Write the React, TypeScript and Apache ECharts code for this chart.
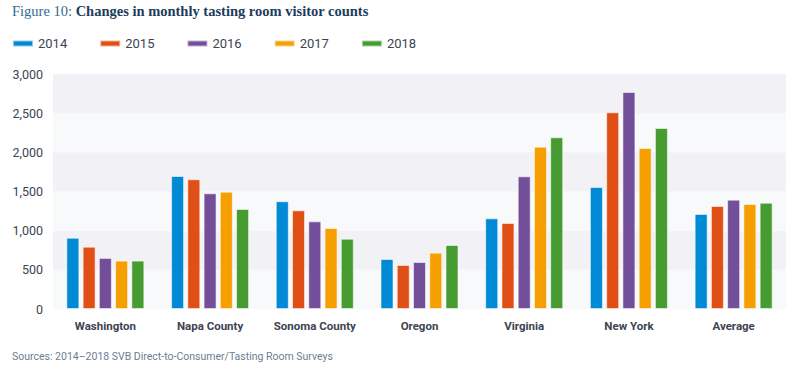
import React, { useEffect, useRef } from "react";
import * as echarts from "echarts";

const categories = ["Washington", "Napa County", "Sonoma County", "Oregon", "Virginia", "New York", "Average"];
const years = ["2014", "2015", "2016", "2017", "2018"];
const v2014 = [910, 1698, 1375, 638, 1157, 1557, 1213];
const v2015 = [795, 1656, 1260, 562, 1098, 2511, 1315];
const v2016 = [652, 1477, 1119, 600, 1694, 2770, 1396];
const v2017 = [618, 1498, 1034, 719, 2072, 2055, 1340];
const v2018 = [618, 1277, 898, 817, 2192, 2311, 1357];
const seriesValues = [v2014, v2015, v2016, v2017, v2018];
const colors = ["#0089d4", "#e04f16", "#744f99", "#f59f00", "#469c31"];
const yTicks = [0, 500, 1000, 1500, 2000, 2500, 3000];

export default function App() {
  const ref = useRef<HTMLDivElement>(null);
  useEffect(() => {
    if (!ref.current) return;
    const chart = echarts.init(ref.current, undefined, { renderer: "svg" });
    const font = "Roboto, 'Noto Sans', sans-serif";
    chart.setOption({
      animation: false,
      backgroundColor: "#ffffff",
      title: {
        left: 12,
        top: 3,
        padding: 0,
        text: "{a|Figure 10: }{b|Changes in monthly tasting room visitor counts}",
        textStyle: {
          rich: {
            a: { fontFamily: "'Liberation Serif', serif", fontSize: 14.5, color: "#2f6b8f", fontWeight: "normal" },
            b: { fontFamily: "'Liberation Serif', serif", fontSize: 14.5, color: "#1d3c5c", fontWeight: "bold" },
          },
        },
      },
      legend: {
        left: 12,
        top: 37,
        padding: 0,
        itemWidth: 20,
        itemHeight: 6,
        itemGap: 32,
        icon: "rect",
        data: years,
        textStyle: { fontFamily: font, fontSize: 13, color: "#3d4452" },
      },
      grid: { left: 53, right: 14, top: 74, bottom: 63 },
      xAxis: {
        type: "category",
        data: categories,
        axisLine: { show: false },
        axisTick: { show: false },
        axisLabel: { interval: 0, margin: 11, fontFamily: font, fontSize: 11.5, fontWeight: "bold", color: "#3d4452" },
      },
      yAxis: {
        type: "value",
        min: yTicks[0],
        max: yTicks[yTicks.length - 1],
        interval: 500,
        axisLine: { show: false },
        axisTick: { show: false },
        splitLine: { show: false },
        splitArea: { show: true, areaStyle: { color: ["#f8f9fb", "#f2f2f6"] } },
        axisLabel: {
          margin: 10,
          fontFamily: font,
          fontSize: 12.5,
          color: "#3d4452",
          formatter: (v: number) => v.toLocaleString("en-US"),
        },
      },
      series: years.map((y, i) => ({
        name: y,
        type: "bar",
        data: seriesValues[i],
        barWidth: 13,
        barGap: "25%",
        itemStyle: { color: colors[i], borderColor: "rgba(255,255,255,0.55)", borderWidth: 1 },
      })),
      graphic: [
        {
          type: "text",
          left: 12,
          top: 351,
          style: {
            text: "Sources: 2014–2018 SVB Direct-to-Consumer/Tasting Room Surveys",
            fontFamily: font,
            fontSize: 10.5,
            fill: "#6b7d95",
          },
        },
      ],
    });
    return () => chart.dispose();
  }, []);
  return <div ref={ref} style={{ width: 800, height: 372, position: "absolute", left: 0, top: 0 }} />;
}
